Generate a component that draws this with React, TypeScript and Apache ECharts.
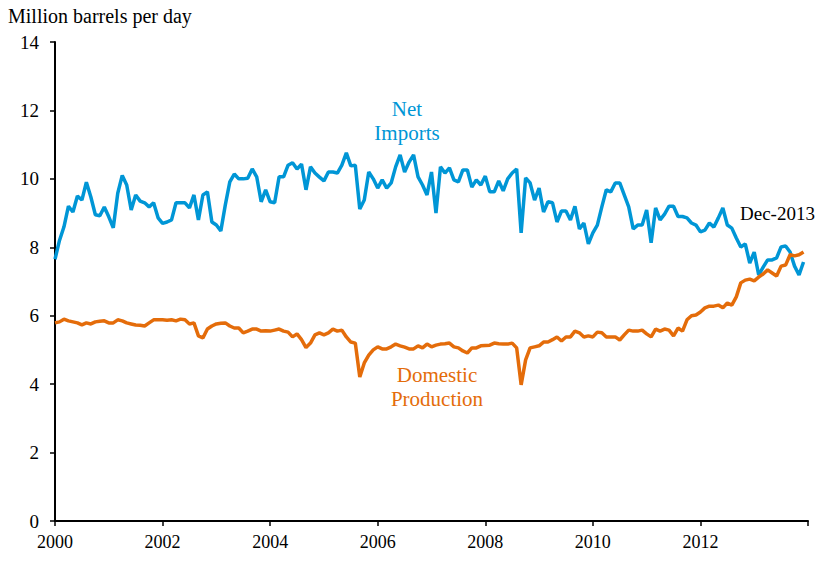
import React, { useEffect, useRef } from "react";
import * as echarts from "echarts";

const startYear = 2000;
const xTicks = [2000, 2002, 2004, 2006, 2008, 2010, 2012, 2014];
const yTicks = [0, 2, 4, 6, 8, 10, 12, 14];

// Monthly values, Jan 2000 - Dec 2013, million barrels per day
const netImports = [
  7.65, 8.2, 8.6, 9.2, 9.03, 9.5, 9.38, 9.9, 9.47, 8.95, 8.92, 9.18,
  8.89, 8.57, 9.58, 10.1, 9.82, 9.09, 9.53, 9.35, 9.3, 9.18, 9.3, 8.86,
  8.7, 8.74, 8.8, 9.3, 9.3, 9.3, 9.15, 9.53, 8.8, 9.53, 9.62, 8.74,
  8.65, 8.48, 9.24, 9.91, 10.14, 10.0, 10.0, 10.02, 10.29, 10.06, 9.33, 9.68,
  9.33, 9.3, 10.06, 10.06, 10.4, 10.47, 10.29, 10.43, 9.68, 10.35, 10.17, 10.05,
  9.94, 10.2, 10.2, 10.17, 10.4, 10.76, 10.38, 10.4, 9.12, 9.38, 10.2, 10.0,
  9.73, 9.97, 9.73, 9.88, 10.35, 10.7, 10.2, 10.49, 10.7, 10.06, 9.82, 9.53,
  10.2, 9.0, 10.35, 10.17, 10.32, 9.97, 9.91, 10.26, 10.26, 9.76, 9.97, 9.82,
  10.08, 9.62, 9.62, 9.94, 9.65, 10.0, 10.17, 10.29, 8.42, 10.03, 9.88, 9.38,
  9.73, 9.03, 9.33, 9.3, 8.74, 9.06, 9.06, 8.8, 9.2, 8.54, 8.71, 8.1,
  8.42, 8.65, 9.18, 9.68, 9.62, 9.88, 9.88, 9.53, 9.18, 8.54, 8.65, 8.65,
  9.09, 8.13, 9.15, 8.8, 8.97, 9.2, 9.2, 8.9, 8.9, 8.86, 8.71, 8.65,
  8.45, 8.5, 8.71, 8.59, 8.86, 9.15, 8.65, 8.56, 8.27, 8.01, 8.1, 7.54,
  7.86, 7.19, 7.42, 7.63, 7.63, 7.69, 8.01, 8.04, 7.86, 7.45, 7.19, 7.57,
];

const domesticProduction = [
  5.79, 5.82, 5.9, 5.85, 5.82, 5.79, 5.73, 5.79, 5.76, 5.82, 5.84, 5.85,
  5.79, 5.79, 5.88, 5.85, 5.79, 5.76, 5.73, 5.72, 5.7, 5.79, 5.88, 5.88,
  5.88, 5.87, 5.88, 5.85, 5.9, 5.88, 5.76, 5.79, 5.41, 5.35, 5.61, 5.7,
  5.76, 5.78, 5.79, 5.7, 5.64, 5.64, 5.5, 5.55, 5.61, 5.61, 5.55, 5.56,
  5.55, 5.58, 5.61, 5.55, 5.52, 5.38, 5.47, 5.3, 5.07, 5.2, 5.44, 5.5,
  5.44, 5.5, 5.61, 5.55, 5.58, 5.38, 5.23, 5.2, 4.21, 4.62, 4.85, 5.0,
  5.09, 5.03, 5.03, 5.09, 5.17, 5.12, 5.08, 5.03, 5.03, 5.12, 5.06, 5.17,
  5.09, 5.14, 5.17, 5.18, 5.2, 5.09, 5.06, 4.97, 4.91, 5.06, 5.06, 5.12,
  5.13, 5.14, 5.2, 5.18, 5.17, 5.17, 5.2, 5.06, 3.98, 4.71, 5.06, 5.09,
  5.12, 5.23, 5.23, 5.3, 5.38, 5.26, 5.38, 5.38, 5.55, 5.5, 5.38, 5.41,
  5.38, 5.52, 5.5, 5.38, 5.38, 5.38, 5.29, 5.44, 5.58, 5.55, 5.55, 5.58,
  5.47, 5.38, 5.61, 5.55, 5.61, 5.58, 5.41, 5.64, 5.55, 5.88, 6.0, 6.02,
  6.11, 6.23, 6.28, 6.28, 6.31, 6.23, 6.37, 6.31, 6.55, 6.96, 7.04, 7.07,
  7.02, 7.13, 7.22, 7.34, 7.25, 7.16, 7.45, 7.48, 7.78, 7.75, 7.78, 7.86,
];

const toPairs = (vals: number[]) => vals.map((v, i) => [startYear + i / 12, v]);

const BLUE = "#0096D6";
const ORANGE = "#E46C0A";
const FONT = "'Liberation Serif', 'Times New Roman', serif";

export default function App() {
  const ref = useRef<HTMLDivElement>(null);
  useEffect(() => {
    if (!ref.current) return;
    const chart = echarts.init(ref.current, null, { renderer: "svg" });
    chart.setOption({
      animation: false,
      backgroundColor: "#ffffff",
      textStyle: { fontFamily: FONT },
      grid: { left: 55, right: 14, top: 42, bottom: 40, containLabel: false },
      xAxis: {
        type: "value",
        min: xTicks[0],
        max: xTicks[xTicks.length - 1],
        interval: 2,
        axisLine: { show: true, lineStyle: { color: "#000", width: 2 } },
        axisTick: { show: true, length: 5, lineStyle: { color: "#000", width: 1.5 } },
        splitLine: { show: false },
        axisLabel: {
          color: "#000",
          fontFamily: FONT,
          fontSize: 18,
          margin: 12,
          formatter: (v: number) => (v === 2014 ? "" : String(v)),
        },
      },
      yAxis: {
        type: "value",
        min: yTicks[0],
        max: yTicks[yTicks.length - 1],
        interval: 2,
        axisLine: { show: true, lineStyle: { color: "#000", width: 2 } },
        axisTick: { show: true, length: 5, lineStyle: { color: "#000", width: 1.5 } },
        splitLine: { show: false },
        axisLabel: { color: "#000", fontFamily: FONT, fontSize: 19, margin: 16 },
      },
      series: [
        {
          name: "Net Imports",
          type: "line",
          data: toPairs(netImports),
          showSymbol: false,
          symbol: "none",
          lineStyle: { color: BLUE, width: 3.5 },
          itemStyle: { color: BLUE },
          z: 3,
        },
        {
          name: "Domestic Production",
          type: "line",
          data: toPairs(domesticProduction),
          showSymbol: false,
          symbol: "none",
          lineStyle: { color: ORANGE, width: 3.5 },
          itemStyle: { color: ORANGE },
          z: 4,
        },
      ],
      graphic: [
        {
          type: "text",
          left: 8,
          top: 6,
          style: { text: "Million barrels per day", fill: "#000", font: `20px ${FONT}` },
        },
        {
          type: "text",
          x: 407,
          y: 97,
          style: {
            text: "Net\nImports",
            fill: BLUE,
            font: `21px ${FONT}`,
            textAlign: "center",
            lineHeight: 24,
          },
        },
        {
          type: "text",
          x: 437,
          y: 363,
          style: {
            text: "Domestic\nProduction",
            fill: ORANGE,
            font: `21px ${FONT}`,
            textAlign: "center",
            lineHeight: 24,
          },
        },
        {
          type: "text",
          x: 740,
          y: 204,
          style: { text: "Dec-2013", fill: "#000", font: `19px ${FONT}` },
        },
      ],
    });
    return () => chart.dispose();
  }, []);
  return (
    <div
      ref={ref}
      style={{ position: "fixed", left: 0, top: 0, width: 822, height: 561 }}
    />
  );
}
